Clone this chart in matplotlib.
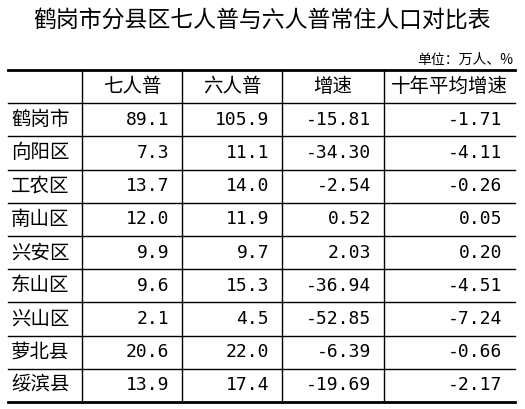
import matplotlib
matplotlib.use("Agg")
import matplotlib.pyplot as plt

plt.rcParams['font.family'] = ['Noto Sans CJK SC', 'DejaVu Sans']

# ================= DATA ================= #
TITLE = "鹤岗市分县区七人普与六人普常住人口对比表"
UNIT = "单位：万人、%"
HEADERS = ["七人普", "六人普", "增速", "十年平均增速"]
REGIONS = ["鹤岗市", "向阳区", "工农区", "南山区", "兴安区", "东山区", "兴山区", "萝北县", "绥滨县"]
CENSUS7 = ["89.1", "7.3", "13.7", "12.0", "9.9", "9.6", "2.1", "20.6", "13.9"]
CENSUS6 = ["105.9", "11.1", "14.0", "11.9", "9.7", "15.3", "4.5", "22.0", "17.4"]
GROWTH = ["-15.81", "-34.30", "-2.54", "0.52", "2.03", "-36.94", "-52.85", "-6.39", "-19.69"]
AVG_GROWTH = ["-1.71", "-4.11", "-0.26", "0.05", "0.20", "-4.51", "-7.24", "-0.66", "-2.17"]

# ================= LAYOUT (pixels) ================= #
W, H = 525, 409
COL_X = [8, 82, 182, 282, 384, 515]
TOP = 70
ROW_H = 33.2

fig = plt.figure(figsize=(W / 100, H / 100), dpi=100)
ax = fig.add_axes([0, 0, 1, 1])
ax.set_xlim(0, W)
ax.set_ylim(H, 0)
ax.axis("off")

ax.text(W / 2, 20, TITLE, ha="center", va="center", fontsize=16.5)
ax.text(513, 60, UNIT, ha="right", va="center", fontsize=10)

n_rows = len(REGIONS) + 1
bottom = TOP + ROW_H * n_rows

# horizontal lines
for i in range(n_rows + 1):
    y = TOP + ROW_H * i
    lw = 2.0 if i in (0, n_rows) else 1.0
    ax.plot([COL_X[0], COL_X[-1]], [y, y], color="black", lw=lw)
# vertical lines (inner only)
for x in COL_X[1:-1]:
    ax.plot([x, x], [TOP, bottom], color="black", lw=1.0)

fs = 14
for j, h in enumerate(HEADERS):
    ax.text((COL_X[j + 1] + COL_X[j + 2]) / 2, TOP + ROW_H / 2, h,
            ha="center", va="center", fontsize=fs)

cols = [CENSUS7, CENSUS6, GROWTH, AVG_GROWTH]
for i, name in enumerate(REGIONS):
    yc = TOP + ROW_H * (i + 1.5)
    ax.text(COL_X[0] + 3, yc, name, ha="left", va="center", fontsize=fs)
    for j, col in enumerate(cols):
        ax.text(COL_X[j + 2] - 13, yc, col[i], ha="right", va="center",
                fontsize=13, family=["DejaVu Sans Mono"])

fig.savefig("out.png", dpi=100)
